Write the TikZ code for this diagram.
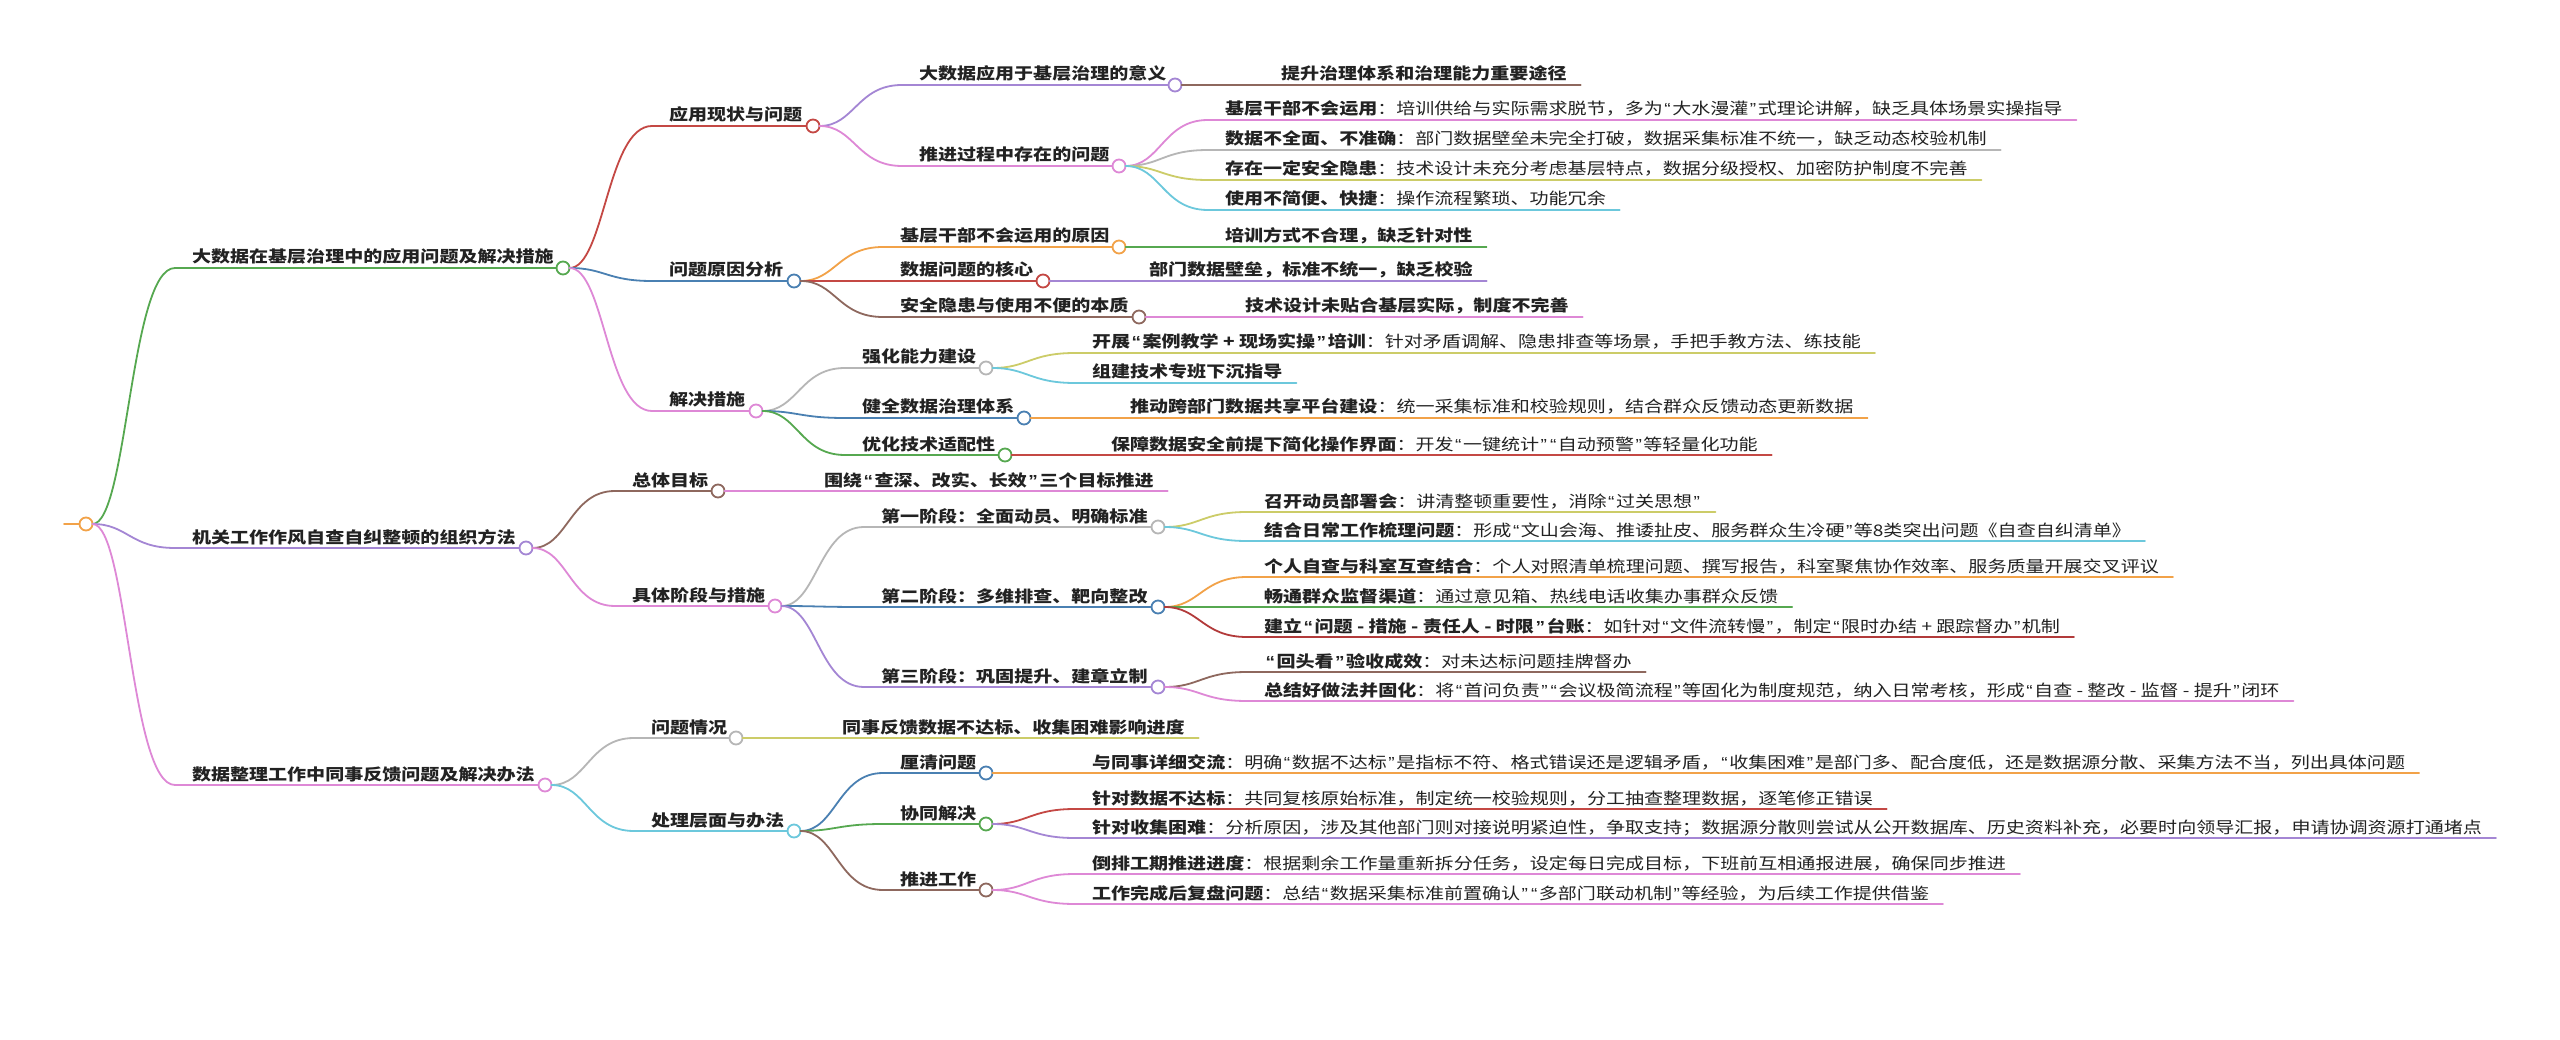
\documentclass[tikz,border=0pt]{standalone}
\usepackage{fontspec}
\setmainfont{Noto Sans CJK SC}[FakeStretch=1.19]
\newfontfamily\mmqf{Liberation Sans}[FakeStretch=1.19]
\usetikzlibrary{calc}
\definecolor{txt}{RGB}{34,34,34}
\definecolor{cgreen}{RGB}{86,168,80}
\definecolor{cred}{RGB}{196,72,68}
\definecolor{cdred}{RGB}{178,58,58}
\definecolor{cblue}{RGB}{74,128,178}
\definecolor{cpink}{RGB}{222,136,214}
\definecolor{cpurple}{RGB}{164,134,212}
\definecolor{corange}{RGB}{242,162,72}
\definecolor{cbrown}{RGB}{142,104,94}
\definecolor{cgray}{RGB}{182,182,182}
\definecolor{colive}{RGB}{204,204,104}
\definecolor{ccyan}{RGB}{108,200,220}
\newcommand\mmoq{{\mmqf\kern1.5pt“\kern1.5pt}}
\newcommand\mmcq{{\mmqf\kern1.5pt”\kern1.5pt}}
% #1 name, #2 parent, #3 parent x, #4 y, #5 circle x, #6 colour, #7 text
\newcommand\mmnode[7]{%
  \coordinate (#1s) at (#3+89,#4);
  \node[hub=#6] (#1) at (#5,#4) {};
  \node[lbl] (#1t) at (#3+106,#4-5) {#7};
  \draw[br=#6] (#2.east) .. controls ($(#2.east)+(35,0)$) and ($(#1s)+(-45,0)$) .. (#1s) -- (#1.west);
}
% #1 name, #2 parent, #3 parent x, #4 y, #5 colour, #6 text
\newcommand\mmleaf[6]{%
  \coordinate (#1s) at (#3+89,#4);
  \node[lbl] (#1) at (#3+106,#4-5) {#6};
  \draw[br=#5] (#2.east) .. controls ($(#2.east)+(35,0)$) and ($(#1s)+(-45,0)$) .. (#1s) -- (#1s -| #1.east) -- ++(14,0);
}
\begin{document}
\begin{tikzpicture}[x=1pt,y=-1pt,
  lbl/.style={anchor=base west,inner sep=0pt,outer sep=0pt,text=txt,font=\fontsize{16pt}{19pt}\selectfont},
  hub/.style={circle,draw=#1,fill=white,line width=1.8pt,minimum size=13pt,inner sep=0pt,outer sep=0pt},
  br/.style={draw=#1,line width=1.8pt,line cap=round}]
\useasboundingbox (0,0) rectangle (2560,1040);
\fill[white] (0,0) rectangle (2560,1040);
% root
\node[hub=corange] (R) at (86,524) {};
\coordinate (Rstub) at (64,524);
\draw[br=corange] (Rstub) -- (R.west);
% level 1
\mmnode{A}{R}{86}{268}{563}{cgreen}{\textbf{大数据在基层治理中的应用问题及解决措施}}
\mmnode{B}{R}{86}{548}{526}{cpurple}{\textbf{机关工作作风自查自纠整顿的组织方法}}
\mmnode{C}{R}{86}{785}{545}{cpink}{\textbf{数据整理工作中同事反馈问题及解决办法}}
% A
\mmnode{A1}{A}{563}{126}{813}{cred}{\textbf{应用现状与问题}}
\mmnode{A2}{A}{563}{281}{794}{cblue}{\textbf{问题原因分析}}
\mmnode{A3}{A}{563}{411}{756}{cpink}{\textbf{解决措施}}
\mmnode{A1a}{A1}{813}{85}{1175}{cpurple}{\textbf{大数据应用于基层治理的意义}}
\mmleaf{A1a1}{A1a}{1175}{85}{cbrown}{\textbf{提升治理体系和治理能力重要途径}}
\mmnode{A1b}{A1}{813}{166}{1119}{cpink}{\textbf{推进过程中存在的问题}}
\mmleaf{A1b1}{A1b}{1119}{120}{cpink}{\textbf{基层干部不会运用}：培训供给与实际需求脱节，多为\mmoq 大水漫灌\mmcq 式理论讲解，缺乏具体场景实操指导}
\mmleaf{A1b2}{A1b}{1119}{150}{cgray}{\textbf{数据不全面、不准确}：部门数据壁垒未完全打破，数据采集标准不统一，缺乏动态校验机制}
\mmleaf{A1b3}{A1b}{1119}{180}{colive}{\textbf{存在一定安全隐患}：技术设计未充分考虑基层特点，数据分级授权、加密防护制度不完善}
\mmleaf{A1b4}{A1b}{1119}{210}{ccyan}{\textbf{使用不简便、快捷}：操作流程繁琐、功能冗余}
\mmnode{A2a}{A2}{794}{247}{1119}{corange}{\textbf{基层干部不会运用的原因}}
\mmleaf{A2a1}{A2a}{1119}{247}{cgreen}{\textbf{培训方式不合理，缺乏针对性}}
\mmnode{A2b}{A2}{794}{281}{1043}{cred}{\textbf{数据问题的核心}}
\mmleaf{A2b1}{A2b}{1043}{281}{cpurple}{\textbf{部门数据壁垒，标准不统一，缺乏校验}}
\mmnode{A2c}{A2}{794}{317}{1139}{cbrown}{\textbf{安全隐患与使用不便的本质}}
\mmleaf{A2c1}{A2c}{1139}{317}{cpink}{\textbf{技术设计未贴合基层实际，制度不完善}}
\mmnode{A3a}{A3}{756}{368}{986}{cgray}{\textbf{强化能力建设}}
\mmleaf{A3a1}{A3a}{986}{353}{colive}{\textbf{开展\mmoq 案例教学 + 现场实操\mmcq 培训}：针对矛盾调解、隐患排查等场景，手把手教方法、练技能}
\mmleaf{A3a2}{A3a}{986}{383}{ccyan}{\textbf{组建技术专班下沉指导}}
\mmnode{A3b}{A3}{756}{418}{1024}{cblue}{\textbf{健全数据治理体系}}
\mmleaf{A3b1}{A3b}{1024}{418}{corange}{\textbf{推动跨部门数据共享平台建设}：统一采集标准和校验规则，结合群众反馈动态更新数据}
\mmnode{A3c}{A3}{756}{455}{1005}{cgreen}{\textbf{优化技术适配性}}
\mmleaf{A3c1}{A3c}{1005}{455}{cred}{\textbf{保障数据安全前提下简化操作界面}：开发\mmoq 一键统计\mmcq\mmoq 自动预警\mmcq 等轻量化功能}
% B
\mmnode{B1}{B}{526}{491}{718}{cbrown}{\textbf{总体目标}}
\mmleaf{B1a}{B1}{718}{491}{cpink}{\textbf{围绕\mmoq 查深、改实、长效\mmcq 三个目标推进}}
\mmnode{B2}{B}{526}{606}{775}{cpink}{\textbf{具体阶段与措施}}
\mmnode{B2a}{B2}{775}{527}{1158}{cgray}{\textbf{第一阶段：全面动员、明确标准}}
\mmleaf{B2a1}{B2a}{1158}{512}{colive}{\textbf{召开动员部署会}：讲清整顿重要性，消除\mmoq 过关思想\mmcq}
\mmleaf{B2a2}{B2a}{1158}{541}{ccyan}{\textbf{结合日常工作梳理问题}：形成\mmoq 文山会海、推诿扯皮、服务群众生冷硬\mmcq 等8类突出问题《自查自纠清单》}
\mmnode{B2b}{B2}{775}{607}{1158}{cblue}{\textbf{第二阶段：多维排查、靶向整改}}
\mmleaf{B2b1}{B2b}{1158}{577}{corange}{\textbf{个人自查与科室互查结合}：个人对照清单梳理问题、撰写报告，科室聚焦协作效率、服务质量开展交叉评议}
\mmleaf{B2b2}{B2b}{1158}{607}{cgreen}{\textbf{畅通群众监督渠道}：通过意见箱、热线电话收集办事群众反馈}
\mmleaf{B2b3}{B2b}{1158}{637}{cdred}{\textbf{建立\mmoq 问题 - 措施 - 责任人 - 时限\mmcq 台账}：如针对\mmoq 文件流转慢\mmcq ，制定\mmoq 限时办结 + 跟踪督办\mmcq 机制}
\mmnode{B2c}{B2}{775}{687}{1158}{cpurple}{\textbf{第三阶段：巩固提升、建章立制}}
\mmleaf{B2c1}{B2c}{1158}{672}{cbrown}{\textbf{\mmoq 回头看\mmcq 验收成效}：对未达标问题挂牌督办}
\mmleaf{B2c2}{B2c}{1158}{701}{cpink}{\textbf{总结好做法并固化}：将\mmoq 首问负责\mmcq\mmoq 会议极简流程\mmcq 等固化为制度规范，纳入日常考核，形成\mmoq 自查 - 整改 - 监督 - 提升\mmcq 闭环}
% C
\mmnode{C1}{C}{545}{738}{736}{cgray}{\textbf{问题情况}}
\mmleaf{C1a}{C1}{736}{738}{colive}{\textbf{同事反馈数据不达标、收集困难影响进度}}
\mmnode{C2}{C}{545}{831}{794}{ccyan}{\textbf{处理层面与办法}}
\mmnode{C2a}{C2}{794}{773}{986}{cblue}{\textbf{厘清问题}}
\mmleaf{C2a1}{C2a}{986}{773}{corange}{\textbf{与同事详细交流}：明确\mmoq 数据不达标\mmcq 是指标不符、格式错误还是逻辑矛盾，\mmoq 收集困难\mmcq 是部门多、配合度低，还是数据源分散、采集方法不当，列出具体问题}
\mmnode{C2b}{C2}{794}{824}{986}{cgreen}{\textbf{协同解决}}
\mmleaf{C2b1}{C2b}{986}{809}{cred}{\textbf{针对数据不达标}：共同复核原始标准，制定统一校验规则，分工抽查整理数据，逐笔修正错误}
\mmleaf{C2b2}{C2b}{986}{838}{cpurple}{\textbf{针对收集困难}：分析原因，涉及其他部门则对接说明紧迫性，争取支持；数据源分散则尝试从公开数据库、历史资料补充，必要时向领导汇报，申请协调资源打通堵点}
\mmnode{C2c}{C2}{794}{890}{986}{cbrown}{\textbf{推进工作}}
\mmleaf{C2c1}{C2c}{986}{874}{cpink}{\textbf{倒排工期推进进度}：根据剩余工作量重新拆分任务，设定每日完成目标，下班前互相通报进展，确保同步推进}
\mmleaf{C2c2}{C2c}{986}{904}{cpink}{\textbf{工作完成后复盘问题}：总结\mmoq 数据采集标准前置确认\mmcq\mmoq 多部门联动机制\mmcq 等经验，为后续工作提供借鉴}
\end{tikzpicture}
\end{document}
